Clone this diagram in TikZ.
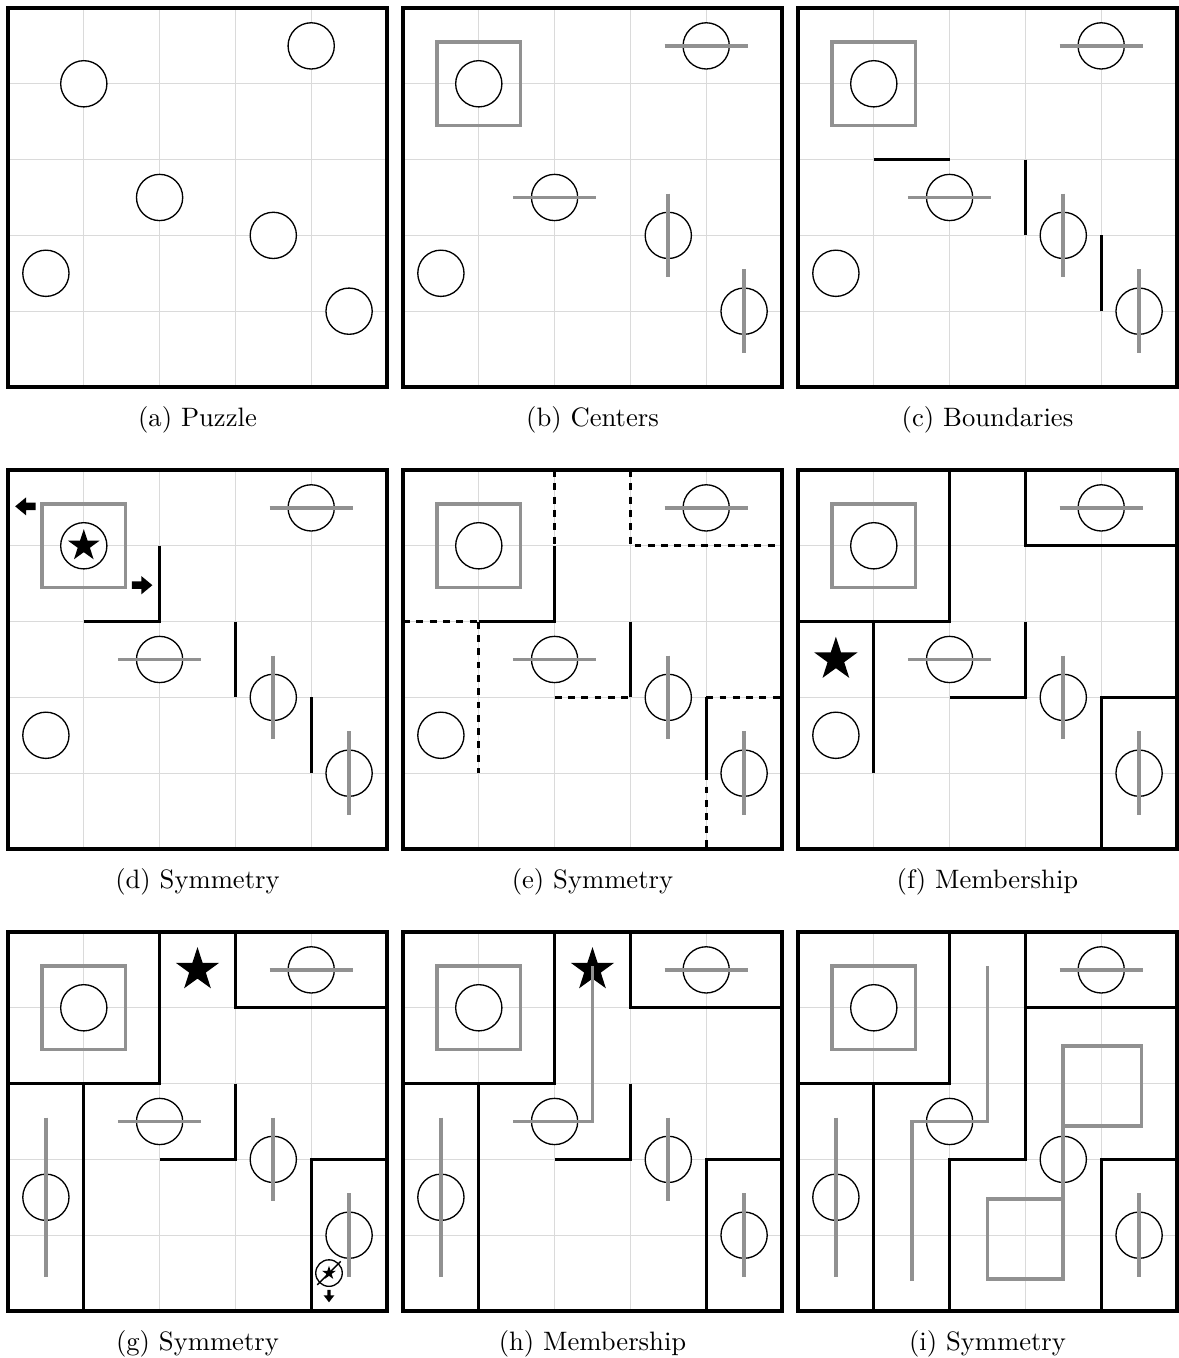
\documentclass[tikz,border=0pt]{standalone}
\usetikzlibrary{shapes.geometric}
\definecolor{mkgray}{RGB}{145,145,145}
\definecolor{grd}{RGB}{218,218,218}
\tikzset{
  gridln/.style={grd, line width=0.4pt},
  frame/.style={black, line width=1.25pt},
  bnd/.style={black, line width=1.05pt},
  dbnd/.style={black, line width=1.05pt, dash pattern=on 2.6pt off 2.4pt},
  gmk/.style={mkgray, line width=1.4pt},
  circ/.style={black, line width=0.5pt, fill=white},
  starbase/.style={star, star points=5, star point ratio=2.6, fill=black, draw=none, inner sep=0pt},
  bigstar/.style={starbase, minimum size=0.6cm},
  midstar/.style={starbase, minimum size=0.44cm},
  tinystar/.style={starbase, minimum size=0.19cm},
  capt/.style={anchor=base, inner sep=0pt}
}
\newcommand{\gridframe}{\draw[gridln] (0,0) grid (5,5);}
\newcommand{\outerframe}{\draw[frame] (0,0) rectangle (5,5);}
\newcommand{\allcircles}{\foreach \cx/\cy in {1/1,4/0.5,2/2.5,3.5/3,0.5/3.5,4.5/4} {\draw[circ] (\cx,\cy) circle (0.305);}}
\newcommand{\basicmarks}{%
  \draw[gmk] (0.45,0.45) rectangle (1.55,1.55);
  \draw[gmk] (3.45,0.5) -- (4.55,0.5);
  \draw[gmk] (3.5,2.45) -- (3.5,3.55);
  \draw[gmk] (4.5,3.45) -- (4.5,4.55);}
\newcommand{\midbar}{\draw[gmk] (1.45,2.5) -- (2.55,2.5);}
\newcommand{\leftbar}{\draw[gmk] (0.5,2.45) -- (0.5,4.55);}
\newcommand{\finalwalls}{%
  \draw[bnd] (2,0) -- (2,2) -- (0,2);
  \draw[bnd] (1,2) -- (1,5);
  \draw[bnd] (3,0) -- (3,1) -- (5,1);
  \draw[bnd] (3,2) -- (3,3) -- (2,3);
  \draw[bnd] (4,5) -- (4,3) -- (5,3);}
\begin{document}
\begin{tikzpicture}
\useasboundingbox (0,0) rectangle (15.554,-17.916);

% (a)
\begin{scope}[shift={(0.1055,-0.1055)},yscale=-1]
  \gridframe
  \allcircles
  \outerframe
  \node[capt] (capa) at (2.5,5.515) {(a) Puzzle};
\end{scope}

% (b)
\begin{scope}[shift={(5.3166,-0.1055)},yscale=-1]
  \gridframe
  \allcircles
  \basicmarks
  \midbar
  \outerframe
  \node[capt] (capb) at (2.5,5.515) {(b) Centers};
\end{scope}

% (c)
\begin{scope}[shift={(10.5277,-0.1055)},yscale=-1]
  \gridframe
  \draw[bnd] (1,2) -- (2,2);
  \draw[bnd] (3,2) -- (3,3);
  \draw[bnd] (4,3) -- (4,4);
  \allcircles
  \basicmarks
  \midbar
  \outerframe
  \node[capt] (capc) at (2.5,5.515) {(c) Boundaries};
\end{scope}

% (d)
\begin{scope}[shift={(0.1055,-6.2005)},yscale=-1]
  \gridframe
  \draw[bnd] (1,2) -- (2,2) -- (2,1);
  \draw[bnd] (3,2) -- (3,3);
  \draw[bnd] (4,3) -- (4,4);
  \allcircles
  \node[midstar] (dstar) at (1,1) {};
  \basicmarks
  \midbar
  \fill (0.095,0.48) -- (0.24,0.36) -- (0.24,0.43) -- (0.365,0.43) -- (0.365,0.53) -- (0.24,0.53) -- (0.24,0.60) -- cycle;
  \fill (1.905,1.52) -- (1.76,1.40) -- (1.76,1.47) -- (1.635,1.47) -- (1.635,1.57) -- (1.76,1.57) -- (1.76,1.64) -- cycle;
  \outerframe
  \node[capt] (capd) at (2.5,5.515) {(d) Symmetry};
\end{scope}

% (e)
\begin{scope}[shift={(5.3166,-6.2005)},yscale=-1]
  \gridframe
  \draw[bnd] (1,2) -- (2,2) -- (2,1);
  \draw[bnd] (3,2) -- (3,3);
  \draw[bnd] (4,3) -- (4,4);
  \draw[dbnd] (2,0) -- (2,1);
  \draw[dbnd] (0,2) -- (1,2);
  \draw[dbnd] (1,2) -- (1,4);
  \draw[dbnd] (2,3) -- (3,3);
  \draw[dbnd] (3,0) -- (3,1) -- (5,1);
  \draw[dbnd] (4,3) -- (5,3);
  \draw[dbnd] (4,4) -- (4,5);
  \allcircles
  \basicmarks
  \midbar
  \outerframe
  \node[capt] (cape) at (2.5,5.515) {(e) Symmetry};
\end{scope}

% (f)
\begin{scope}[shift={(10.5277,-6.2005)},yscale=-1]
  \gridframe
  \draw[bnd] (2,0) -- (2,2) -- (0,2);
  \draw[bnd] (1,2) -- (1,4);
  \draw[bnd] (3,0) -- (3,1) -- (5,1);
  \draw[bnd] (3,2) -- (3,3) -- (2,3);
  \draw[bnd] (4,5) -- (4,3) -- (5,3);
  \allcircles
  \node[bigstar] (fstar) at (0.5,2.5) {};
  \basicmarks
  \midbar
  \outerframe
  \node[capt] (capf) at (2.5,5.515) {(f) Membership};
\end{scope}

% (g)
\begin{scope}[shift={(0.1055,-12.2955)},yscale=-1]
  \gridframe
  \finalwalls
  \allcircles
  \node[bigstar] (gstar) at (2.5,0.5) {};
  \basicmarks
  \midbar
  \leftbar
  \draw[circ] (4.235,4.5) circle (0.175);
  \node[tinystar] (gstarsmall) at (4.235,4.5) {};
  \draw[black, line width=0.5pt] (4.08,4.655) -- (4.39,4.345);
  \fill (4.235,4.885) -- (4.165,4.795) -- (4.213,4.795) -- (4.213,4.72) -- (4.257,4.72) -- (4.257,4.795) -- (4.305,4.795) -- cycle;
  \outerframe
  \node[capt] (capg) at (2.5,5.515) {(g) Symmetry};
\end{scope}

% (h)
\begin{scope}[shift={(5.3166,-12.2955)},yscale=-1]
  \gridframe
  \finalwalls
  \allcircles
  \node[bigstar] (hstar) at (2.5,0.5) {};
  \basicmarks
  \leftbar
  \draw[gmk] (2.5,0.45) -- (2.5,2.5) -- (1.45,2.5);
  \outerframe
  \node[capt] (caph) at (2.5,5.515) {(h) Membership};
\end{scope}

% (i)
\begin{scope}[shift={(10.5277,-12.2955)},yscale=-1]
  \gridframe
  \draw[bnd] (2,0) -- (2,2) -- (0,2);
  \draw[bnd] (1,2) -- (1,5);
  \draw[bnd] (3,0) -- (3,3) -- (2,3) -- (2,5);
  \draw[bnd] (3,1) -- (5,1);
  \draw[bnd] (4,5) -- (4,3) -- (5,3);
  \allcircles
  \draw[gmk] (0.45,0.45) rectangle (1.55,1.55);
  \draw[gmk] (3.45,0.5) -- (4.55,0.5);
  \draw[gmk] (4.5,3.45) -- (4.5,4.55);
  \leftbar
  \draw[gmk] (2.5,0.45) -- (2.5,2.5) -- (1.5,2.5) -- (1.5,4.6);
  \draw[gmk] (3.5,2.56) -- (4.53,2.56) -- (4.53,1.5) -- (3.5,1.5) -- (3.5,4.58) -- (2.5,4.58) -- (2.5,3.52) -- (3.5,3.52);
  \outerframe
  \node[capt] (capi) at (2.5,5.515) {(i) Symmetry};
\end{scope}
\end{tikzpicture}
\end{document}
